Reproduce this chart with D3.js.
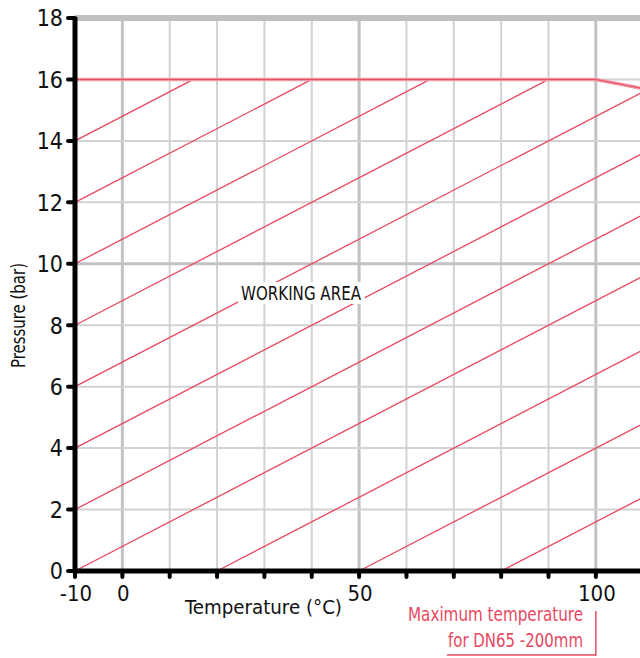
<!DOCTYPE html>
<html>
<head>
<meta charset="utf-8">
<script src="https://cdn.jsdelivr.net/npm/d3@7"></script>
<style>
  html, body { margin: 0; padding: 0; background: #fff; }
  svg { display: block; }
  text { font-family: "Liberation Sans Narrow", "DejaVu Sans Condensed", "Open Sans", sans-serif; }
</style>
</head>
<body>
<script>
// Temperature (°C) / pressure (bar) values
const tempTicks = [-10, 0, 10, 20, 30, 40, 50, 60, 70, 80, 90, 100];
const tempLabels = [-10, 0, 50, 100];
const tempGrid = [0, 10, 20, 30, 40, 50, 60, 70, 80, 90, 100];
const tempMajor = [0, 50, 100];
const pressTicks = [0, 2, 4, 6, 8, 10, 12, 14, 16, 18];
const pressMajor = [10];

// max working pressure envelope
const limitTemp = [-10, 100, 110];
const limitPress = [16, 16, 15.7];

// hatching of the working area: start and end points [temp, pressure]
const hatchFrom = [
  [-10, 0], [-10, 2], [-10, 4], [-10, 6], [-10, 8], [-10, 10], [-10, 12], [-10, 14],
  [20, 0], [50, 0], [80, 0]
];
const hatchTo = [
  [110, 9.6], [110, 11.6], [110, 13.6], [110, 15.6], [90, 16], [65, 16], [40, 16], [15, 16],
  [110, 7.2], [110, 4.8], [110, 2.4]
];

const width = 640;
const height = 658;

const svg = d3.select('body').append('svg')
  .attr('width', width)
  .attr('height', height);

const x = d3.scaleLinear().domain([-10, 110]).range([75, 643.2]);
const y = d3.scaleLinear().domain([0, 18]).range([571, 18]);

// grid
const grid = svg.append('g');
grid.selectAll('line.v')
  .data(tempGrid)
  .join('line')
  .attr('class', 'v')
  .attr('x1', d => x(d)).attr('x2', d => x(d))
  .attr('y1', y(0)).attr('y2', y(18))
  .attr('stroke', d => tempMajor.includes(d) ? '#c2c2c2' : '#d2d2d2')
  .attr('stroke-width', d => tempMajor.includes(d) ? 3 : 2);

grid.selectAll('line.h')
  .data(pressTicks.filter(d => d > 0 && d < 18))
  .join('line')
  .attr('class', 'h')
  .attr('x1', x(-10)).attr('x2', width)
  .attr('y1', d => y(d)).attr('y2', d => y(d))
  .attr('stroke', d => pressMajor.includes(d) ? '#c2c2c2' : '#d2d2d2')
  .attr('stroke-width', d => pressMajor.includes(d) ? 3 : 2);

// thick top border
grid.append('line')
  .attr('x1', x(-10)).attr('x2', width)
  .attr('y1', y(18)).attr('y2', y(18))
  .attr('stroke', '#c0c0c0')
  .attr('stroke-width', 6);

// hatch lines
svg.append('g')
  .selectAll('line')
  .data(hatchFrom.map((d, i) => [d, hatchTo[i]]))
  .join('line')
  .attr('x1', d => x(d[0][0])).attr('y1', d => y(d[0][1]))
  .attr('x2', d => x(d[1][0])).attr('y2', d => y(d[1][1]))
  .attr('stroke', '#e8485f')
  .attr('stroke-width', 1.3);

// limit line (pale band with a thin core)
const limitPts = limitTemp.map((t, i) => [t, limitPress[i]]);
svg.append('path')
  .datum(limitPts)
  .attr('d', d3.line().x(d => x(d[0])).y(d => y(d[1])))
  .attr('fill', 'none')
  .attr('stroke', '#f19aa5')
  .attr('stroke-width', 3.5);
svg.append('path')
  .datum(limitPts)
  .attr('d', d3.line().x(d => x(d[0])).y(d => y(d[1])))
  .attr('fill', 'none')
  .attr('stroke', '#e8485f')
  .attr('stroke-width', 1);

// working area label with white box behind it
const wa = svg.append('g');
const waText = wa.append('text')
  .attr('x', 241)
  .attr('y', 300)
  .attr('font-size', 20)
  .attr('textLength', 120)
  .attr('lengthAdjust', 'spacingAndGlyphs')
  .attr('fill', '#111')
  .text('WORKING AREA');
const bb = waText.node().getBBox();
wa.insert('rect', 'text')
  .attr('x', bb.x - 3).attr('y', bb.y + 1)
  .attr('width', bb.width + 6).attr('height', bb.height - 2)
  .attr('fill', '#fff');

// axes
svg.append('line')
  .attr('x1', x(-10)).attr('x2', x(-10))
  .attr('y1', y(18) - 1).attr('y2', y(0) + 2)
  .attr('stroke', '#000')
  .attr('stroke-width', 5);
svg.append('line')
  .attr('x1', x(-10) - 2).attr('x2', width)
  .attr('y1', y(0)).attr('y2', y(0))
  .attr('stroke', '#000')
  .attr('stroke-width', 5);

// y ticks
svg.append('g')
  .selectAll('line')
  .data(pressTicks)
  .join('line')
  .attr('x1', x(-10) - 7).attr('x2', x(-10))
  .attr('y1', d => y(d)).attr('y2', d => y(d))
  .attr('stroke', '#000')
  .attr('stroke-width', 4)
  .attr('stroke-linecap', 'round');

svg.append('g')
  .selectAll('text')
  .data(pressTicks)
  .join('text')
  .attr('x', 63)
  .attr('y', d => y(d))
  .attr('dy', '0.36em')
  .attr('text-anchor', 'end')
  .attr('font-size', 23)
  .attr('fill', '#111')
  .text(d => d);

// x ticks
svg.append('g')
  .selectAll('line')
  .data(tempTicks)
  .join('line')
  .attr('x1', d => x(d)).attr('x2', d => x(d))
  .attr('y1', y(0)).attr('y2', y(0) + 6)
  .attr('stroke', '#000')
  .attr('stroke-width', 4)
  .attr('stroke-linecap', 'round');

svg.append('g')
  .selectAll('text')
  .data(tempLabels)
  .join('text')
  .attr('x', d => x(d) + 1)
  .attr('y', 601)
  .attr('text-anchor', 'middle')
  .attr('font-size', 22)
  .attr('fill', '#111')
  .text(d => d);

// axis titles
svg.append('text')
  .attr('x', 185)
  .attr('y', 614)
  .attr('font-size', 20)
  .attr('textLength', 157)
  .attr('lengthAdjust', 'spacingAndGlyphs')
  .attr('fill', '#111')
  .text('Temperature (°C)');

svg.append('text')
  .attr('transform', 'translate(25,263) rotate(-90)')
  .attr('text-anchor', 'end')
  .attr('font-size', 20)
  .attr('textLength', 105)
  .attr('lengthAdjust', 'spacingAndGlyphs')
  .attr('fill', '#111')
  .text('Pressure  (bar)');

// annotation for max temperature
const note = svg.append('g').attr('fill', '#e8485f');
note.append('text')
  .attr('x', 408).attr('y', 621)
  .attr('font-size', 19)
  .attr('textLength', 175)
  .attr('lengthAdjust', 'spacingAndGlyphs')
  .text('Maximum temperature');
note.append('text')
  .attr('x', 448).attr('y', 647)
  .attr('font-size', 19)
  .attr('textLength', 135)
  .attr('lengthAdjust', 'spacingAndGlyphs')
  .text('for DN65 -200mm');
note.append('path')
  .attr('d', `M${x(100)},611 V655 H447`)
  .attr('fill', 'none')
  .attr('stroke', '#e8485f')
  .attr('stroke-width', 1.5);
</script>
</body>
</html>
